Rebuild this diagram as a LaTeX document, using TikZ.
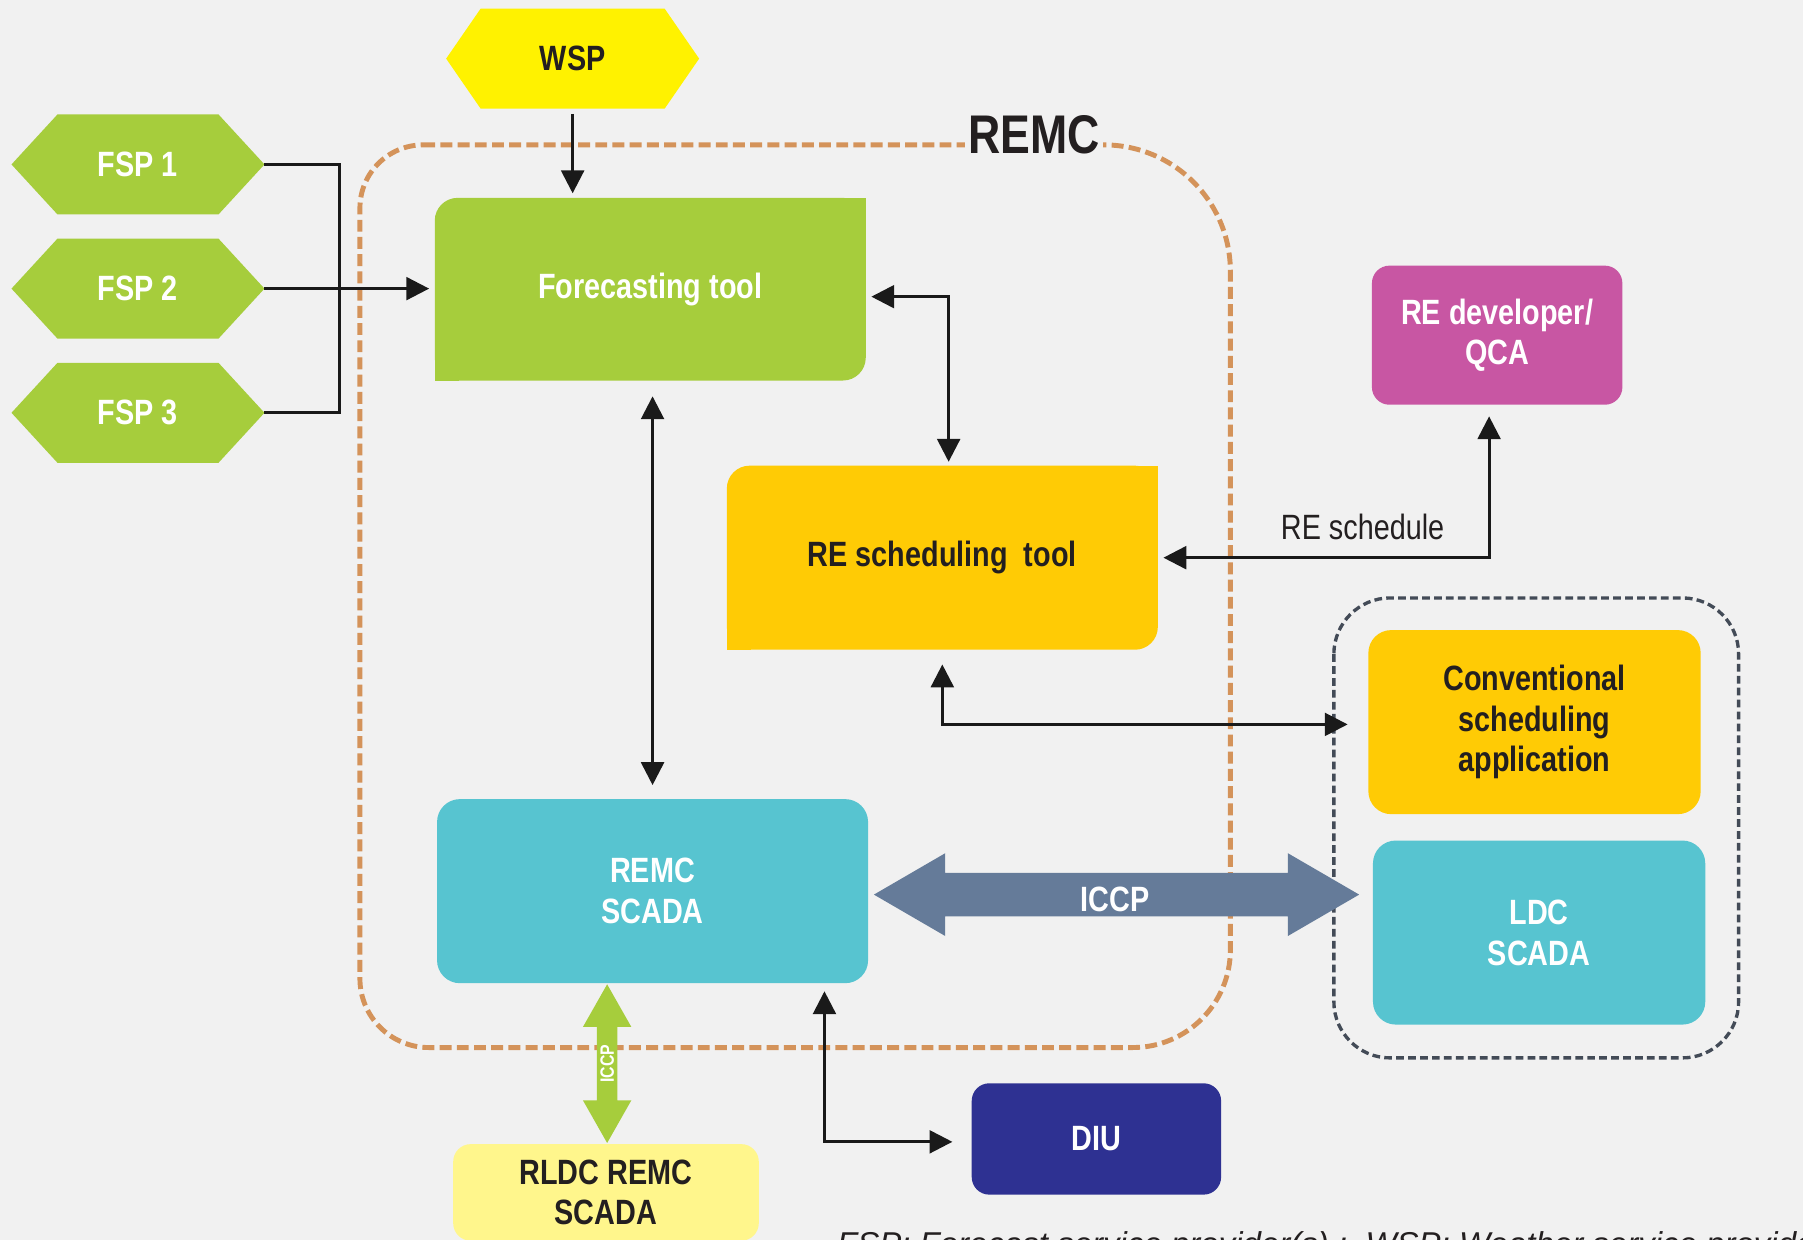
\documentclass[tikz,border=0pt]{standalone}
\usepackage{fontspec}
\setmainfont{Liberation Sans}[FakeStretch=0.82]
\newfontfamily\footfont{Liberation Sans}
\usetikzlibrary{arrows.meta}
\definecolor{bgc}{HTML}{F1F1F1}
\definecolor{greenc}{HTML}{A6CD3C}
\definecolor{wspc}{HTML}{FFF200}
\definecolor{amberc}{HTML}{FFCB05}
\definecolor{cyanc}{HTML}{57C4D0}
\definecolor{magc}{HTML}{C856A3}
\definecolor{navyc}{HTML}{2E3192}
\definecolor{paleyc}{HTML}{FFF68C}
\definecolor{iccpc}{HTML}{657B99}
\definecolor{remcc}{HTML}{D4935A}
\definecolor{ldcc}{HTML}{434B57}
\definecolor{textc}{HTML}{231F20}
\definecolor{linec}{HTML}{1A1A1A}
% hexagon: colour, cx, cy, half width, half height, point depth
\newcommand{\myhex}[6]{\fill[#1] ({#2-#4},#3) -- ({#2-#4+#6},{#3-#5}) -- ({#2+#4-#6},{#3-#5}) -- ({#2+#4},#3) -- ({#2+#4-#6},{#3+#5}) -- ({#2-#4+#6},{#3+#5}) -- cycle;}
\begin{document}
\begin{tikzpicture}[x=0.0115cm, y=-0.0115cm,
  every node/.style={inner sep=0pt, outer sep=0pt},
  box/.style={rectangle, rounded corners=6.5pt, align=center, font=\bfseries\fontsize{10}{11.6}\selectfont},
  hexnode/.style={rectangle, minimum width=72pt, minimum height=28.5pt, font=\bfseries\fontsize{10}{12}\selectfont},
  wire/.style={draw=linec, line width=0.8pt},
  arr/.style={wire, -{Triangle[length=6.5pt,width=6.5pt]}},
  darr/.style={wire, {Triangle[length=6.5pt,width=6.5pt]}-{Triangle[length=6.5pt,width=6.5pt]}},
  remcline/.style={draw=remcc, line width=1.4pt, dash pattern=on 3.4pt off 1.5pt},
  ldcline/.style={draw=ldcc, line width=0.95pt, dash pattern=on 2.2pt off 1.2pt},
  lbl/.style={font=\fontsize{10}{12}\selectfont, text=textc}
]
\fill[bgc] (0,0) rectangle (1568,1078);
\useasboundingbox (0,0) rectangle (1568,1078);
\clip (0,0) rectangle (1568,1078);

% REMC dashed boundary
\draw[remcline] (368,126) -- (960,126) .. controls (1020.75,126) and (1070,175.25) .. (1070,236)
  -- (1070,826) .. controls (1070,872.95) and (1031.95,911) .. (985,911)
  -- (373,911) .. controls (339.86,911) and (313,884.14) .. (313,851)
  -- (313,181) .. controls (313,150.62) and (337.62,126) .. (368,126) -- cycle;
\node[font=\bfseries\fontsize{15.5}{18}\selectfont, text=textc, fill=bgc, inner sep=1pt] (remct) at (899,117) {REMC};

% LDC dashed boundary
\draw[ldcline, rounded corners=16pt] (1160,520) rectangle (1512,920);

% hexagons
\myhex{wspc}{498}{51}{110}{43.5}{30}
\myhex{greenc}{120}{143}{110}{43.5}{40}
\myhex{greenc}{120}{251}{110}{43.5}{40}
\myhex{greenc}{120}{359}{110}{43.5}{40}
\node[hexnode, text=textc] (wsp) at (498,51) {WSP};
\node[hexnode, text=white] (fsp1) at (120,143) {FSP 1};
\node[hexnode, text=white] (fsp2) at (120,251) {FSP 2};
\node[hexnode, text=white] (fsp3) at (120,359) {FSP 3};

% boxes
\node[box, fill=greenc, text=white, minimum width=122.7pt, minimum height=52pt] (fc) at (565.5,251.5) {Forecasting tool};
\fill[greenc] (fc.north east) rectangle ++(-7pt,-7pt);
\fill[greenc] (fc.south west) rectangle ++(7pt,7pt);
\node[box, fill=amberc, text=textc, minimum width=122.7pt, minimum height=52.4pt] (rest) at (819.5,485) {RE scheduling~ tool};
\fill[amberc] (rest.north east) rectangle ++(-7pt,-7pt);
\fill[amberc] (rest.south west) rectangle ++(7pt,7pt);
\node[box, fill=cyanc, text=white, minimum width=122.7pt, minimum height=52.4pt] (rscada) at (567.5,775) {REMC\\SCADA};
\node[box, rounded corners=5pt, fill=magc, text=white, minimum width=71.3pt, minimum height=39.6pt] (redev) at (1302,291.5) {RE developer/\\QCA};
\node[box, fill=amberc, text=textc, minimum width=94.6pt, minimum height=52.4pt] (conv) at (1334.5,628) {Conventional\\scheduling\\application};
\node[box, fill=cyanc, text=white, minimum width=94.6pt, minimum height=52.4pt] (ldc) at (1338.5,811) {LDC\\SCADA};
\node[box, rounded corners=5pt, fill=navyc, text=white, minimum width=71pt, minimum height=31.7pt] (diu) at (953.5,990.5) {DIU};
\node[box, rounded corners=5pt, fill=paleyc, text=textc, minimum width=87pt, minimum height=27.5pt] (rldc) at (527,1037) {RLDC REMC\\SCADA};

% ICCP wide double arrow (REMC SCADA <-> LDC SCADA)
\coordinate (ia) at (760,778);
\coordinate (ib) at (1182,778);
\fill[iccpc] (ia) -- ++(62,-36) -- ++(0,17) -- ++(298,0) -- ++(0,-17) -- (ib) -- ++(-62,36) -- ++(0,-17) -- ++(-298,0) -- ++(0,17) -- cycle;
\node[font=\bfseries\fontsize{10}{12}\selectfont, text=white] (iccp1) at (970,782) {ICCP};

% small green ICCP arrow (REMC SCADA <-> RLDC REMC SCADA)
\coordinate (ga) at (528,856);
\coordinate (gb) at (528,994);
\fill[greenc] (ga) -- ++(21,37) -- ++(-12,0) -- ++(0,64) -- ++(12,0) -- (gb) -- ++(-21,-37) -- ++(12,0) -- ++(0,-64) -- ++(-12,0) -- cycle;
\node[font=\bfseries\fontsize{5.5}{6}\selectfont, text=white, rotate=90] (iccp2) at (528,925) {ICCP};

% connectors
\coordinate (bus) at (295,251);
\draw[wire] (fsp1.east) -| (bus) |- (fsp3.east);
\draw[arr, shorten >=1.6pt] (fsp2.east) -- (fsp2.east -| fc.west);
\draw[arr, shorten <=1.5pt, shorten >=1.3pt] (wsp.south) -- (wsp.south |- fc.north);
\coordinate (k1) at (825,258);
\draw[darr, shorten <=1.6pt, shorten >=1.1pt] (k1 -| fc.east) -- (k1) -- (k1 |- rest.north);
\draw[darr, shorten <=4.5pt, shorten >=4pt] (rscada.north |- fc.south) -- (rscada.north);
\coordinate (k2) at (1295,485);
\draw[darr, shorten <=1.6pt, shorten >=3.3pt] (rest.east) -- (k2) -- (k2 |- redev.south);
\node[lbl] (resl) at (1185,458) {RE schedule};
\coordinate (k3) at (819.5,630);
\draw[darr, shorten <=4.2pt, shorten >=5.9pt] (rest.south) -- (k3) -- (k3 -| conv.west);
\coordinate (k4) at (717,993);
\draw[darr, shorten <=2.3pt, shorten >=5.5pt] (k4 |- rscada.south) -- (k4) -- (k4 -| diu.west);

% footnote (cut by the lower edge, as in the reference)
\node[anchor=base west, font=\footfont\itshape\fontsize{9.4}{11}\selectfont, text=textc] (foot) at (728,1092) {FSP: Forecast service provider(s) ;~ WSP: Weather service provider};
\end{tikzpicture}
\end{document}
